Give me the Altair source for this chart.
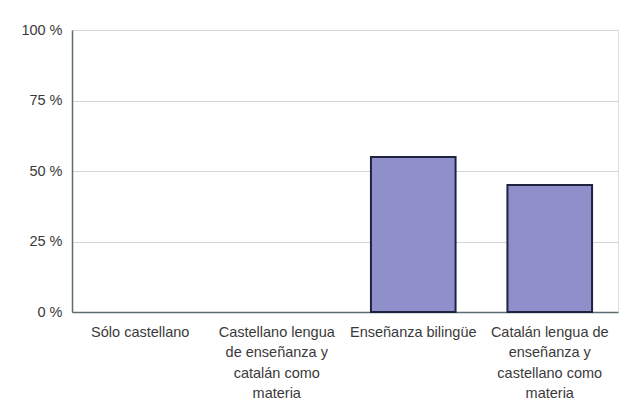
import altair as alt
import pandas as pd

categories = [
    "Sólo castellano",
    "Castellano lengua de enseñanza y catalán como materia",
    "Enseñanza bilingüe",
    "Catalán lengua de enseñanza y castellano como materia",
]
label_lines = [
    "Sólo castellano",
    "Castellano lengua|de enseñanza y|catalán como|materia",
    "Enseñanza bilingüe",
    "Catalán lengua de|enseñanza y|castellano como|materia",
]
values = [0, 0, 55, 45]
y_ticks = [0, 25, 50, 75, 100]

df = pd.DataFrame({"cat": categories, "val": values})
label_map = {c: l for c, l in zip(categories, label_lines)}
label_expr = "split(" + " : ".join(
    [f"datum.label == '{c}' ? '{l}'" for c, l in label_map.items()]
) + " : datum.label, '|')"

FONT = "Liberation Sans"
FS = 14.5
TXT = "#3a3a3a"

chart = (
    alt.Chart(df)
    .mark_bar(color="#8f8fcb", stroke="#1e2340", strokeWidth=2)
    .encode(
        x=alt.X(
            "cat:N",
            sort=categories,
            scale=alt.Scale(paddingInner=0.38, paddingOuter=0.19),
            axis=alt.Axis(
                title=None,
                labelAngle=0,
                labelExpr=label_expr,
                labelFont=FONT,
                labelFontSize=FS,
                labelColor=TXT,
                labelLineHeight=20.5,
                labelPadding=13,
                labelBaseline="top",
                labelOverlap=False,
                labelLimit=200,
                ticks=False,
                domainColor="#5d6b72",
                domainWidth=1.5,
                grid=False,
            ),
        ),
        y=alt.Y(
            "val:Q",
            scale=alt.Scale(domain=[0, 100]),
            axis=alt.Axis(
                title=None,
                values=y_ticks,
                labelExpr="datum.value + ' %'",
                labelFont=FONT,
                labelFontSize=FS,
                labelColor=TXT,
                labelPadding=10,
                ticks=False,
                domainColor="#5d6b72",
                domainWidth=1.5,
                grid=True,
                gridColor="#d2d6d8",
                gridWidth=1,
            ),
        ),
        strokeOpacity=alt.condition(alt.datum.val > 0, alt.value(1), alt.value(0)),
    )
    .properties(
        width=546,
        height=282,
        autosize=alt.AutoSizeParams(type="none"),
        padding={"left": 64, "top": 22, "right": 4, "bottom": 100},
    )
    .configure_view(stroke="#6b7a80", strokeWidth=1.5)
    .configure(background="white")
)

chart.save("out.html", embed_options={"renderer": "svg", "actions": False})
